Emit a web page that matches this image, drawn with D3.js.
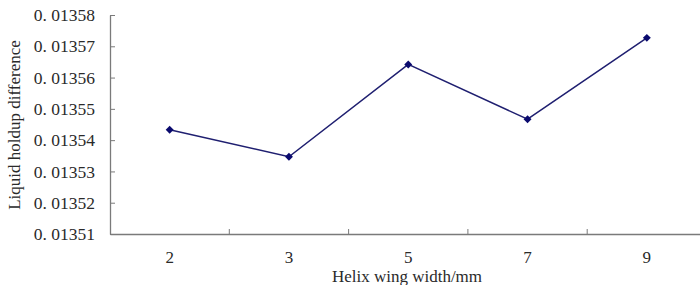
<!DOCTYPE html>
<html><head><meta charset="utf-8">
<script src="https://cdn.jsdelivr.net/npm/d3@7"></script>
<style>
html,body{margin:0;padding:0;background:#fff;}
svg{display:block;}
</style></head>
<body>
<svg id="chart" width="700" height="285"></svg>
<script>
const categories = ["2", "3", "5", "7", "9"];
const values = [0.0135433, 0.0135347, 0.0135642, 0.0135467, 0.0135727];
const yTicks = [0.01351, 0.01352, 0.01353, 0.01354, 0.01355, 0.01356, 0.01357, 0.01358];
const yTickLabels = ["0. 01351", "0. 01352", "0. 01353", "0. 01354", "0. 01355", "0. 01356", "0. 01357", "0. 01358"];
const xTitle = "Helix wing width/mm";
const yTitle = "Liquid holdup difference";

(function () {
const svg = d3.select("#chart");
const font = "'Liberation Serif', 'Times New Roman', serif";
const mLeft = 110, mRight = 706.5, mTop = 15, mBottom = 234;

const x = d3.scaleBand().domain(categories).range([mLeft, mRight]);
const y = d3.scaleLinear().domain([0.01351, 0.01358]).range([mBottom, mTop]);
const axisColor = "#7a7a7a";
const textColor = "#2a2a2a";

// Y axis
const yAxis = svg.append("g").attr("transform", `translate(${mLeft},0)`)
  .call(d3.axisLeft(y).tickValues(yTicks)
    .tickFormat((d, i) => yTickLabels[i])
    .tickSizeInner(-5).tickSizeOuter(0).tickPadding(15));
yAxis.select(".domain").attr("stroke", axisColor).attr("stroke-width", 1.3);
yAxis.selectAll(".tick line").attr("stroke", axisColor);
yAxis.selectAll(".tick text").attr("font-family", font).attr("font-size", 17.5).attr("fill", textColor);

// X axis
const xAxis = svg.append("g").attr("transform", `translate(0,${mBottom})`)
  .call(d3.axisBottom(x).tickSize(0).tickPadding(17));
xAxis.select(".domain").attr("stroke", axisColor).attr("stroke-width", 1.3);
xAxis.selectAll(".tick text").attr("font-family", font).attr("font-size", 17).attr("fill", textColor);
xAxis.selectAll(".sep").data(categories.slice(1)).enter().append("line")
  .attr("class", "sep")
  .attr("x1", d => x(d)).attr("x2", d => x(d))
  .attr("y1", 0).attr("y2", -5)
  .attr("stroke", axisColor).attr("stroke-width", 1);

// Titles
svg.append("text").attr("x", 407).attr("y", 282)
  .attr("text-anchor", "middle").attr("font-family", font).attr("font-size", 17)
  .attr("fill", textColor).text(xTitle);
svg.append("text").attr("transform", "translate(20,125) rotate(-90)")
  .attr("text-anchor", "middle").attr("font-family", font).attr("font-size", 17)
  .attr("fill", textColor).text(yTitle);

// Line
const cx = d => x(d) + x.bandwidth() / 2;
const line = d3.line().x((d, i) => cx(categories[i])).y(d => y(d));
svg.append("path").datum(values).attr("d", line)
  .attr("fill", "none").attr("stroke", "#1f1f70").attr("stroke-width", 1.5);

// Diamond markers
svg.selectAll(".pt").data(values).enter().append("path")
  .attr("class", "pt")
  .attr("transform", (d, i) => `translate(${cx(categories[i])},${y(d)})`)
  .attr("d", d3.symbol().type(d3.symbolDiamond2).size(40))
  .attr("fill", "#0a0a6e");
})();
</script>
</body></html>
